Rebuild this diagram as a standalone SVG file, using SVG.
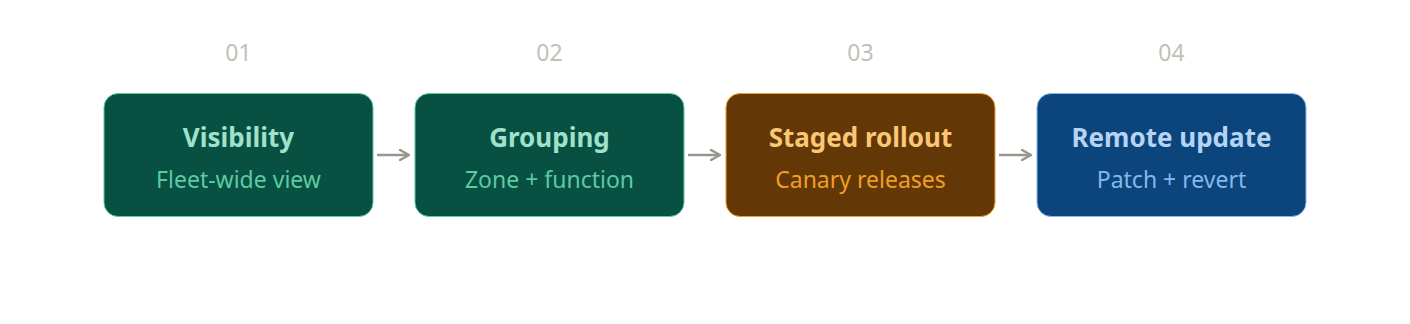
<svg xmlns="http://www.w3.org/2000/svg" width="1410" height="324" viewBox="0 0 1410 324">
<defs>
<style>
.num{font-family:"Noto Sans","Open Sans",sans-serif;font-size:23px;fill:#c2bfb6;text-anchor:middle}
.t{font-family:"Noto Sans","Open Sans",sans-serif;font-size:26px;font-weight:700;text-anchor:middle}
.s{font-family:"Noto Sans","Open Sans",sans-serif;font-size:23px;text-anchor:middle}
.conn{stroke:#99968e;stroke-width:2.5;fill:none;marker-end:url(#ah)}
.g rect{fill:#085041;stroke:#5dcaa5}
.g .t{fill:#9fe1cb}
.g .s{fill:#5dcaa5}
.o rect{fill:#633806;stroke:#ef9f27}
.o .t{fill:#fac775}
.o .s{fill:#ef9f27}
.b rect{fill:#0c447c;stroke:#85b7eb}
.b .t{fill:#b5d4f4}
.b .s{fill:#85b7eb}
</style>
<marker id="ah" viewBox="0 0 12 12" refX="10" refY="6" markerWidth="12" markerHeight="12" markerUnits="userSpaceOnUse" orient="auto">
<path d="M1,1 L10,6 L1,11" fill="none" stroke="#99968e" stroke-width="2.5" stroke-linecap="round" stroke-linejoin="round"/>
</marker>
</defs>
<rect width="1410" height="324" fill="#ffffff"/>
<g id="n1" class="g">
<text class="num" x="238.5" y="61">01</text>
<rect x="104" y="93.5" width="269" height="123" rx="14"/>
<text class="t" x="238.5" y="147">Visibility</text>
<text class="s" x="238.5" y="188">Fleet-wide view</text>
</g>
<g id="n2" class="g">
<text class="num" x="549.5" y="61">02</text>
<rect x="415" y="93.5" width="269" height="123" rx="14"/>
<text class="t" x="549.5" y="147">Grouping</text>
<text class="s" x="549.5" y="188">Zone + function</text>
</g>
<g id="n3" class="o">
<text class="num" x="860.5" y="61">03</text>
<rect x="726" y="93.5" width="269" height="123" rx="14"/>
<text class="t" x="860.5" y="147">Staged rollout</text>
<text class="s" x="860.5" y="188">Canary releases</text>
</g>
<g id="n4" class="b">
<text class="num" x="1171.5" y="61">04</text>
<rect x="1037" y="93.5" width="269" height="123" rx="14"/>
<text class="t" x="1171.5" y="147">Remote update</text>
<text class="s" x="1171.5" y="188">Patch + revert</text>
</g>
<g id="connectors">
<line class="conn" x1="377" y1="155" x2="409" y2="155"/>
<line class="conn" x1="688" y1="155" x2="720" y2="155"/>
<line class="conn" x1="999" y1="155" x2="1031" y2="155"/>
</g>
</svg>
